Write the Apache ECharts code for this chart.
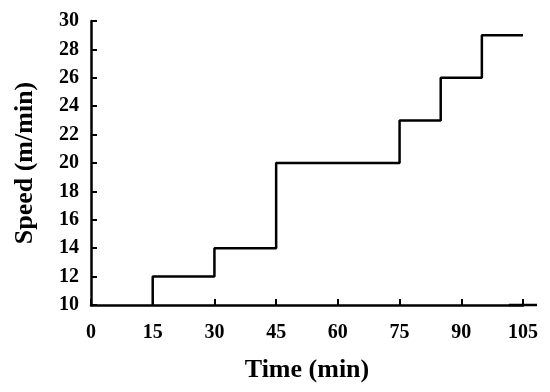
<!DOCTYPE html>
<html>
<head>
<meta charset="utf-8">
<script src="https://cdn.jsdelivr.net/npm/echarts@6/dist/echarts.min.js"></script>
<style>html,body{margin:0;padding:0;background:#fff;}#c{width:550px;height:392px;}</style>
</head>
<body>
<div id="c"></div>
<script>
// Time at which each speed level ends (step drawn at start of each point)
var times = [15, 30, 45, 75, 85, 95, 105];
// Speed (m/min) before each change
var speeds = [10, 12, 14, 20, 23, 26, 29];
var xTicks = [0, 15, 30, 45, 60, 75, 90, 105];
var yTicks = [10, 12, 14, 16, 18, 20, 22, 24, 26, 28, 30];

var points = times.map(function (t, i) { return [t, speeds[i]]; });
var font = 'Liberation Serif, Times New Roman, serif';

var chart = echarts.init(document.getElementById('c'), null, {renderer: 'canvas'});
chart.setOption({
  animation: false,
  backgroundColor: '#fff',
  grid: {left: 91, right: 27, top: 21, bottom: 87},
  xAxis: {
    type: 'value',
    min: xTicks[0], max: xTicks[xTicks.length - 1], interval: 15,
    name: 'Time (min)', nameLocation: 'middle', nameGap: 52,
    nameTextStyle: {fontFamily: font, fontWeight: 'bold', fontSize: 26, color: '#000'},
    axisLine: {symbol: ['none', 'rect'], symbolSize: [2.5, 28], lineStyle: {color: '#000', width: 2.5}},
    axisTick: {inside: true, length: 6, lineStyle: {color: '#000', width: 2}},
    axisLabel: {margin: 18, fontFamily: font, fontWeight: 'bold', fontSize: 20, color: '#000'},
    splitLine: {show: false}
  },
  yAxis: {
    type: 'value',
    min: yTicks[0], max: yTicks[yTicks.length - 1], interval: 2,
    name: 'Speed (m/min)', nameLocation: 'middle', nameGap: 53,
    nameTextStyle: {fontFamily: font, fontWeight: 'bold', fontSize: 26, color: '#000'},
    axisLine: {lineStyle: {color: '#000', width: 2.5}},
    axisTick: {inside: true, length: 6, lineStyle: {color: '#000', width: 2}},
    axisLabel: {margin: 12, fontFamily: font, fontWeight: 'bold', fontSize: 20, color: '#000'},
    splitLine: {show: false}
  },
  series: [{
    type: 'line',
    step: 'start',
    data: points,
    showSymbol: false,
    lineStyle: {color: '#000', width: 2.5},
    z: 1
  }]
});
</script>
</body>
</html>
